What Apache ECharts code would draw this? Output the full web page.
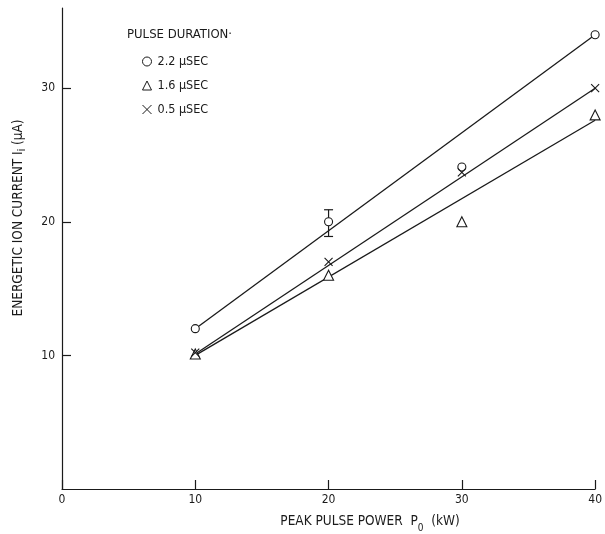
<!DOCTYPE html>
<html>
<head>
<meta charset="utf-8">
<script src="https://cdn.jsdelivr.net/npm/echarts@6/dist/echarts.min.js"></script>
<style>
  html, body { margin: 0; padding: 0; background: #fff; }
  #chart { width: 605px; height: 534px; }
</style>
</head>
<body>
<div id="chart"></div>
<script>
// measured points, peak pulse power (kW) vs ion current (uA)
const power = [10, 20, 30, 40];
const current22 = [12, 20, 24.1, 34];
const current16 = [10.1, 16, 20, 28];
const current05 = [10.2, 17, 23.7, 30];

// drawn straight lines (endpoints)
const fitX = [10, 40];
const fit22 = [12, 34];
const fit16 = [10, 27.6];
const fit05 = [10.1, 30];

// error bar on the 2.2 usec point at 20 kW
const errX = [20];
const errLow = [18.9];
const errHigh = [20.9];

const yTicks = [10, 20, 30];
const legendNames = ['2.2 μSEC', '1.6 μSEC', '0.5 μSEC'];

const font = 'DejaVu Sans Condensed';
const ink = '#1a1a1a';

function pairs(xs, ys) {
  return xs.map((x, i) => [x, ys[i]]);
}

var myChart = echarts.init(document.getElementById('chart'));

const crossPath = 'path://M0,0L10,10M10,0L0,10';

function lineSeries(ys) {
  return {
    type: 'line',
    data: pairs(fitX, ys),
    symbol: 'none',
    lineStyle: { color: ink, width: 1.3 },
    silent: true,
    z: 2
  };
}

function pointSeries(name, ys, symbol, size) {
  return {
    name: name,
    type: 'scatter',
    data: pairs(power, ys),
    symbol: symbol,
    symbolSize: size,
    itemStyle: { color: '#fff', borderColor: ink, borderWidth: 1.1, opacity: 1 },
    z: 3
  };
}

var option = {
  animation: false,
  backgroundColor: '#fff',
  grid: { left: 62, right: 6, top: 8, bottom: 45 },
  title: {
    text: 'PULSE DURATION·',
    left: 122,
    top: 23,
    textStyle: { fontFamily: font, fontSize: 13, fontWeight: 'normal', color: ink }
  },
  legend: {
    orient: 'vertical',
    left: 137,
    top: 50,
    itemGap: 11,
    itemWidth: 9,
    itemHeight: 9,
    data: legendNames,
    itemStyle: { color: '#fff', borderColor: ink, borderWidth: 1, opacity: 1 },
    textStyle: { fontFamily: font, fontSize: 12.5, color: ink, padding: [0, 0, 0, 1] }
  },
  xAxis: {
    type: 'value',
    min: 0,
    max: 40,
    interval: 10,
    splitLine: { show: false },
    axisLine: { lineStyle: { color: ink, width: 1.2 } },
    axisTick: { inside: true, length: 9, lineStyle: { color: ink, width: 1.2 } },
    axisLabel: { fontFamily: font, fontSize: 12, color: ink, margin: 5 }
  },
  yAxis: {
    type: 'value',
    min: 0,
    max: 36,
    interval: 10,
    splitLine: { show: false },
    axisLine: { show: true, lineStyle: { color: ink, width: 1.2 } },
    axisTick: {
      show: true, inside: true, length: 9, customValues: yTicks,
      lineStyle: { color: ink, width: 1.2 }
    },
    axisLabel: {
      fontFamily: font, fontSize: 12, color: ink, margin: 7, customValues: yTicks
    }
  },
  graphic: [
    {
      type: 'text',
      x: 18,
      y: 218,
      rotation: Math.PI / 2,
      style: {
        text: 'ENERGETIC ION CURRENT I{sub|i} (μA)',
        fontFamily: font,
        fontSize: 13.5,
        fill: ink,
        align: 'center',
        verticalAlign: 'middle',
        rich: { sub: { fontFamily: font, fontSize: 10, fill: ink, padding: [8, 0, 0, 0] } }
      }
    },
    {
      type: 'text',
      x: 370,
      y: 521,
      style: {
        text: 'PEAK PULSE POWER  P{sub|0}  (kW)',
        fontFamily: font,
        fontSize: 13.5,
        fill: ink,
        align: 'center',
        verticalAlign: 'middle',
        rich: { sub: { fontFamily: font, fontSize: 10, fill: ink, padding: [14, 0, 0, 0] } }
      }
    }
  ],
  series: [
    lineSeries(fit22),
    lineSeries(fit16),
    lineSeries(fit05),
    pointSeries(legendNames[0], current22, 'circle', 8),
    pointSeries(legendNames[1], current16, 'triangle', 10),
    pointSeries(legendNames[2], current05, crossPath, 8),
    {
      type: 'custom',
      data: errX.map((x, i) => [x, errLow[i], errHigh[i]]),
      renderItem: function (params, api) {
        const lo = api.coord([api.value(0), api.value(1)]);
        const hi = api.coord([api.value(0), api.value(2)]);
        const w = 4.5;
        const st = { stroke: ink, lineWidth: 1.2 };
        return {
          type: 'group',
          children: [
            { type: 'line', shape: { x1: lo[0], y1: lo[1], x2: hi[0], y2: hi[1] }, style: st },
            { type: 'line', shape: { x1: lo[0] - w, y1: lo[1], x2: lo[0] + w, y2: lo[1] }, style: st },
            { type: 'line', shape: { x1: hi[0] - w, y1: hi[1], x2: hi[0] + w, y2: hi[1] }, style: st }
          ]
        };
      },
      z: 1
    }
  ]
};

myChart.setOption(option);
</script>
</body>
</html>
